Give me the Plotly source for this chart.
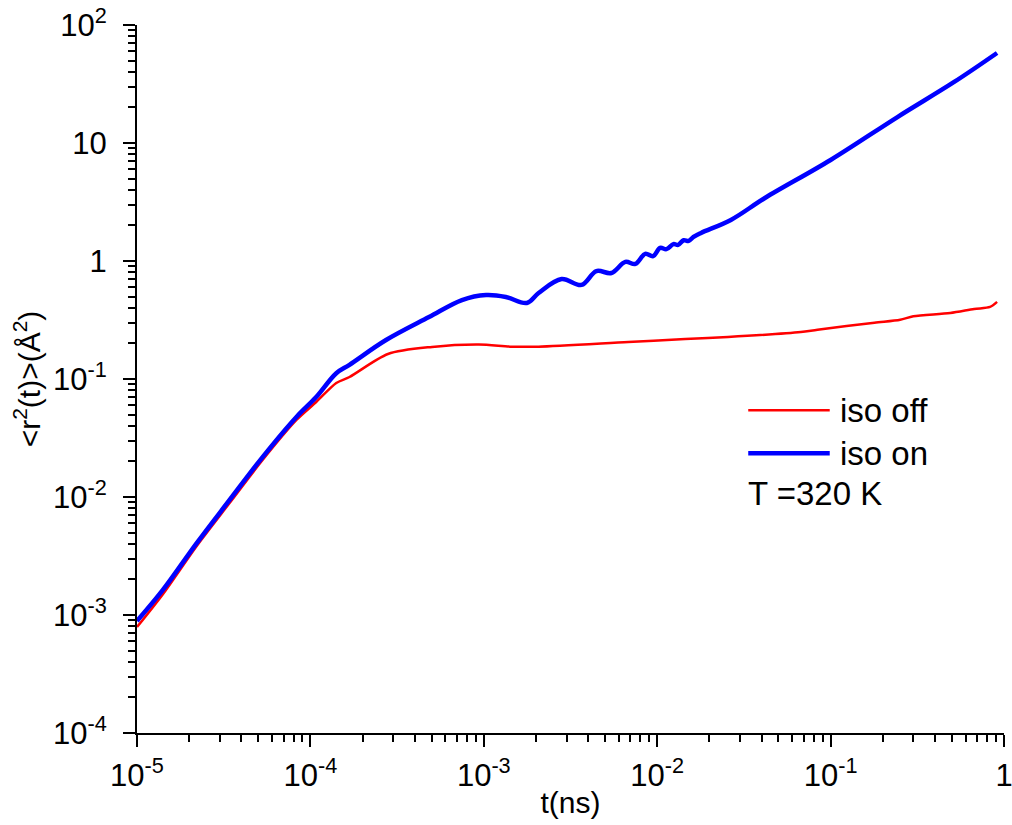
import plotly.graph_objects as go

# ---- data ----
t_on = [1e-5, 1.41e-5, 2.21e-5, 3.42e-5, 5.30e-5, 8.31e-5, 1.08e-4, 1.41e-4, 1.68e-4,
        2.73e-4, 4.83e-4, 7.48e-4, 1.03e-3, 1.34e-3, 1.77e-3, 2.07e-3, 2.81e-3, 3.66e-3,
        4.46e-3, 5.44e-3, 6.55e-3, 7.48e-3, 8.53e-3, 9.48e-3, 1.04e-2, 1.13e-2, 1.24e-2,
        1.32e-2, 1.42e-2, 1.52e-2, 1.62e-2, 1.79e-2, 2.66e-2, 4.18e-2, 0.1, 0.243, 0.516, 0.912]
r2_on = [8.9e-4, 1.63e-3, 4.07e-3, 9.44e-3, 0.0218, 0.0477, 0.0703, 0.112, 0.132,
         0.214, 0.335, 0.467, 0.515, 0.496, 0.441, 0.536, 0.703, 0.627,
         0.822, 0.791, 0.982, 0.944, 1.15, 1.10, 1.29, 1.26, 1.39,
         1.37, 1.50, 1.48, 1.60, 1.73, 2.23, 3.42, 7.18, 16.6, 32.9, 57.9]

t_off = [1e-5, 1.41e-5, 2.21e-5, 3.42e-5, 5.30e-5, 8.31e-5, 1.08e-4, 1.41e-4, 1.68e-4,
         2.8e-4, 5.03e-4, 9.36e-4, 1.45e-3, 2.07e-3, 6.81e-3, 1.45e-2, 2.56e-2, 6.73e-2,
         8.41e-2, 0.179, 0.252, 0.3, 0.490, 0.673, 0.831, 0.912]
r2_off = [7.9e-4, 1.50e-3, 3.85e-3, 8.9e-3, 0.0206, 0.045, 0.0638, 0.0925, 0.104,
          0.163, 0.187, 0.196, 0.188, 0.188, 0.206, 0.218, 0.227, 0.250,
          0.262, 0.300, 0.318, 0.340, 0.362, 0.392, 0.408, 0.45]

x_tickvals = [1e-5, 1e-4, 1e-3, 1e-2, 1e-1, 1]
x_ticktext = ["10<sup>-5</sup>", "10<sup>-4</sup>", "10<sup>-3</sup>", "10<sup>-2</sup>", "10<sup>-1</sup>", "1"]
y_tickvals = [1e-4, 1e-3, 1e-2, 1e-1, 1, 10, 100]
y_ticktext = ["10<sup>-4</sup>", "10<sup>-3</sup>", "10<sup>-2</sup>", "10<sup>-1</sup>", "1", "10", "10<sup>2</sup>"]

labels = ["iso off", "iso on"]
note = "T =320 K"

FONT = "Arial, Liberation Sans, sans-serif"

fig = go.Figure()
fig.add_trace(go.Scatter(x=t_off, y=r2_off, mode="lines", name=labels[0],
                         line=dict(color="#ff0000", width=2.5, shape="spline", smoothing=0.8)))
fig.add_trace(go.Scatter(x=t_on, y=r2_on, mode="lines", name=labels[1],
                         line=dict(color="#0000ff", width=4.5, shape="spline", smoothing=1.0)))

def minor_vals(lo, hi):
    v = []
    for e in range(lo, hi):
        for m in range(2, 10):
            v.append(m * 10 ** e)
    return v

axis_common = dict(
    showgrid=False, zeroline=False, showline=True, linecolor="black", linewidth=2,
    ticks="outside", ticklen=12, tickwidth=2, tickcolor="black", automargin=False,
    ticklabeloverflow="allow",
    tickfont=dict(family=FONT, size=31, color="black"),
)

fig.update_xaxes(type="log", range=[-5, 0], tickmode="array", tickvals=x_tickvals,
                 ticktext=x_ticktext, ticklabelstandoff=2,
                 minor=dict(tickmode="array", tickvals=minor_vals(-5, 0), ticks="outside",
                            ticklen=7, tickwidth=2, tickcolor="black", showgrid=False),
                 title=dict(text="t(ns)", font=dict(family=FONT, size=30, color="black"), standoff=0),
                 **axis_common)
fig.update_yaxes(type="log", range=[-4, 2], tickmode="array", tickvals=y_tickvals,
                 ticktext=y_ticktext, ticklabelstandoff=10,
                 minor=dict(tickmode="array", tickvals=minor_vals(-4, 2), ticks="outside",
                            ticklen=7, tickwidth=2, tickcolor="black", showgrid=False),
                 title=dict(text="<r<sup>2</sup>(t)>(Å<sup>2</sup>)",
                            font=dict(family=FONT, size=30, color="black"), standoff=4),
                 **axis_common)

# legend drawn manually (long line samples as in the reference)
fig.add_shape(type="line", xref="paper", yref="paper", x0=0.705, x1=0.799, y0=0.456, y1=0.456,
              line=dict(color="#ff0000", width=2.5))
fig.add_shape(type="line", xref="paper", yref="paper", x0=0.705, x1=0.799, y0=0.395, y1=0.395,
              line=dict(color="#0000ff", width=4.5))
fig.add_annotation(xref="paper", yref="paper", x=0.809, y=0.456, text=labels[0], showarrow=False,
                   xanchor="left", yanchor="middle", font=dict(family=FONT, size=33, color="black"))
fig.add_annotation(xref="paper", yref="paper", x=0.809, y=0.395, text=labels[1], showarrow=False,
                   xanchor="left", yanchor="middle", font=dict(family=FONT, size=33, color="black"))
fig.add_annotation(xref="paper", yref="paper", x=0.702, y=0.338, text=note, showarrow=False,
                   xanchor="left", yanchor="middle", font=dict(family=FONT, size=33, color="black"))

fig.update_layout(
    width=1012, height=825,
    margin=dict(l=137, r=8, t=25, b=92),
    paper_bgcolor="white", plot_bgcolor="white",
    showlegend=False,
    font=dict(family=FONT, color="black"),
)

# remove the default 8px page margin so the figure fills the window exactly
fig.write_html("out.html", config={"displayModeBar": False},
               post_script="document.body.style.margin='0';document.body.style.overflow='hidden';")
